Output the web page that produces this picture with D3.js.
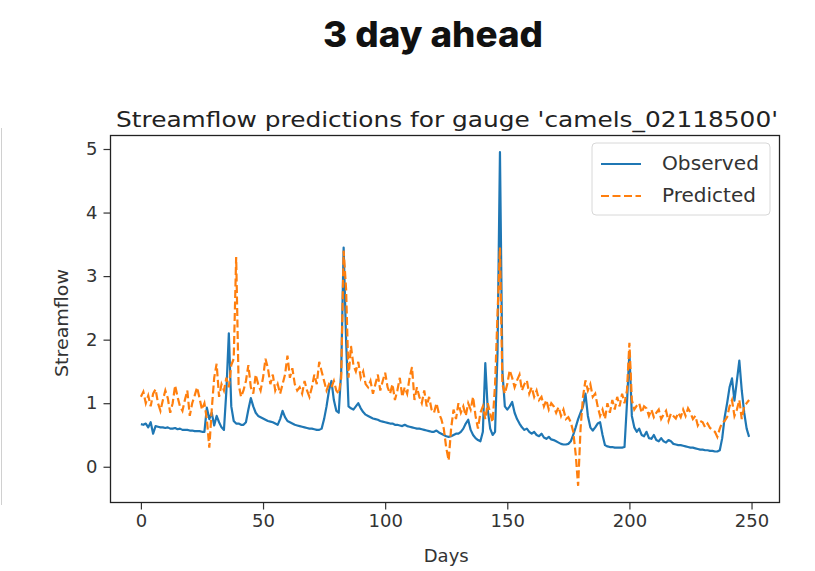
<!DOCTYPE html>
<html>
<head>
<meta charset="utf-8">
<script src="https://cdn.jsdelivr.net/npm/d3@7"></script>
<style>
  html, body { margin: 0; padding: 0; background: #ffffff; }
  svg { display: block; }
</style>
</head>
<body>
<div id="chart"></div>
<script>
const mainTitle = "3 day ahead";
const plotTitle = "Streamflow predictions for gauge 'camels_02118500'";
const xLabel = "Days";
const yLabel = "Streamflow";
const seriesNames = ["Observed", "Predicted"];
const xTicks = [0, 50, 100, 150, 200, 250];
const yTicks = [0, 1, 2, 3, 4, 5];

const observed = [
  0.67, 0.66, 0.68, 0.62, 0.70, 0.52, 0.64, 0.63, 0.62, 0.62,
  0.61, 0.62, 0.60, 0.60, 0.61, 0.59, 0.60, 0.58, 0.58, 0.58,
  0.57, 0.57, 0.56, 0.56, 0.56, 0.55, 0.55, 0.93, 0.75, 0.85,
  0.65, 0.80, 0.70, 0.62, 0.58, 1.20, 2.10, 0.95, 0.72, 0.68,
  0.68, 0.66, 0.66, 0.70, 0.90, 1.08, 0.95, 0.85, 0.80, 0.78,
  0.76, 0.74, 0.72, 0.71, 0.70, 0.68, 0.66, 0.75, 0.88, 0.78,
  0.72, 0.70, 0.68, 0.66, 0.65, 0.64, 0.63, 0.62, 0.61, 0.60,
  0.60, 0.59, 0.58, 0.58, 0.60, 0.75, 0.95, 1.20, 1.35, 1.05,
  0.88, 0.85, 1.50, 3.45, 2.00, 0.95, 0.92, 0.90, 0.95, 1.00,
  0.92, 0.86, 0.82, 0.80, 0.78, 0.76, 0.75, 0.74, 0.72, 0.71,
  0.70, 0.69, 0.68, 0.68, 0.66, 0.66, 0.65, 0.64, 0.66, 0.64,
  0.63, 0.62, 0.61, 0.60, 0.60, 0.59, 0.58, 0.57, 0.56, 0.55,
  0.55, 0.57, 0.54, 0.52, 0.50, 0.48, 0.47, 0.48, 0.50, 0.52,
  0.52, 0.55, 0.60, 0.68, 0.74, 0.58, 0.50, 0.45, 0.42, 0.40,
  0.55, 1.63, 0.90, 0.60, 0.50, 0.55, 1.80, 4.95, 1.50, 0.95,
  0.90, 0.95, 1.02, 0.85, 0.75, 0.68, 0.62, 0.58, 0.60, 0.55,
  0.52, 0.55, 0.50, 0.48, 0.52, 0.46, 0.44, 0.47, 0.43, 0.42,
  0.40, 0.38, 0.36, 0.35, 0.35, 0.36, 0.40, 0.50, 0.62, 0.75,
  0.85, 0.95, 1.15, 0.80, 0.62, 0.57, 0.62, 0.68, 0.70, 0.50,
  0.34, 0.32, 0.31, 0.31, 0.30, 0.30, 0.30, 0.30, 0.31, 1.00,
  1.80, 0.80, 0.62, 0.55, 0.60, 0.50, 0.48, 0.55, 0.45, 0.44,
  0.50, 0.42, 0.40, 0.45, 0.40, 0.38, 0.42, 0.40, 0.36, 0.35,
  0.34, 0.34, 0.33, 0.32, 0.31, 0.30, 0.30, 0.29, 0.28, 0.27,
  0.27, 0.26, 0.26, 0.25, 0.25, 0.24, 0.24, 0.26, 0.45, 0.78,
  1.00, 1.25, 1.39, 1.04, 1.35, 1.67, 1.20, 0.85, 0.60, 0.47
];

const predicted = [
  1.10, 1.18, 1.00, 1.12, 0.95, 1.15, 1.22, 1.00, 0.88, 1.05,
  1.20, 1.08, 0.85, 1.00, 1.28, 1.10, 0.95, 0.88, 1.05, 1.20,
  0.80, 1.00, 1.12, 1.25, 1.08, 0.90, 1.00, 0.75, 0.30, 0.90,
  1.40, 1.62, 1.10, 1.30, 1.20, 1.40, 1.25, 1.60, 1.70, 3.30,
  1.30, 1.10, 1.20, 1.35, 1.60, 1.25, 1.15, 1.45, 1.30, 1.20,
  1.40, 1.70, 1.55, 1.30, 1.45, 1.20, 1.30, 1.15, 1.30, 1.45,
  1.75, 1.40, 1.55, 1.30, 1.20, 1.25, 1.15, 1.35, 1.20, 1.10,
  1.25, 1.45, 1.30, 1.65, 1.50, 1.35, 1.20, 1.30, 1.25, 1.35,
  1.20, 1.15, 1.40, 3.40, 2.80, 1.40, 1.90, 1.60, 1.50, 1.65,
  1.40, 1.50, 1.30, 1.25, 1.35, 1.15, 1.30, 1.45, 1.20, 1.35,
  1.48, 1.25, 1.15, 1.30, 1.05, 1.20, 1.40, 1.10, 1.25, 1.15,
  1.40, 1.57, 1.05, 1.25, 1.10, 1.00, 1.20, 0.95, 1.10, 0.90,
  0.85, 1.00, 0.84, 0.75, 0.60, 0.30, 0.10, 0.60, 0.90, 0.75,
  1.00, 0.85, 0.95, 0.80, 1.00, 0.90, 1.10, 0.80, 0.60, 0.85,
  0.95, 0.75, 1.00, 0.84, 0.70, 1.30, 2.40, 3.45, 1.30, 1.15,
  1.30, 1.52, 1.40, 1.25, 1.36, 1.45, 1.20, 1.30, 1.36, 1.15,
  1.25, 1.10, 1.20, 1.05, 1.10, 0.95, 1.05, 0.90, 1.00, 0.95,
  0.85, 0.94, 0.80, 0.90, 0.75, 0.78, 0.70, 0.55, 0.20, -0.30,
  0.60, 1.10, 1.36, 1.20, 1.30, 1.10, 1.15, 0.95, 0.80, 0.90,
  0.75, 1.00, 0.85, 1.05, 0.90, 1.10, 0.95, 1.15, 1.00, 1.20,
  1.95, 1.05, 0.90, 0.96, 1.00, 0.85, 0.95, 0.92, 0.80, 0.90,
  0.78, 0.85, 0.90, 0.75, 0.82, 0.88, 0.72, 0.84, 0.80, 0.76,
  0.85, 0.78, 0.90, 0.80, 0.92, 0.85, 0.75, 0.80, 0.65, 0.72,
  0.70, 0.62, 0.68, 0.61, 0.58, 0.55, 0.47, 0.60, 0.70, 0.72,
  0.78, 0.95, 1.05, 0.80, 0.90, 1.05, 0.75, 0.95, 1.00, 1.05
];

const colors = ["#1f77b4", "#ff7f0e"];

const W = 815, H = 571;
const plot = { left: 110.5, right: 779.5, top: 135.5, bottom: 502.5 };

const svg = d3.select("#chart").append("svg")
  .attr("width", W).attr("height", H)
  .style("font-family", "'DejaVu Sans', sans-serif");

svg.append("rect").attr("width", W).attr("height", H).attr("fill", "#ffffff");

// faint panel edge on far left
svg.append("line").attr("x1", 1.5).attr("x2", 1.5).attr("y1", 128).attr("y2", 505)
  .attr("stroke", "#d0d0d0").attr("stroke-width", 1);

const n = observed.length;
const allVals = observed.concat(predicted);
const yMin = d3.min(allVals), yMax = d3.max(allVals);
const yPad = (yMax - yMin) * 0.05;
const xPad = (n - 1) * 0.05;

const x = d3.scaleLinear().domain([-xPad, n - 1 + xPad]).range([plot.left, plot.right]);
const y = d3.scaleLinear().domain([yMin - yPad, yMax + yPad]).range([plot.bottom, plot.top]);

// main title
svg.append("text")
  .attr("x", 433).attr("y", 47)
  .attr("text-anchor", "middle")
  .style("font-family", "Inter, Roboto, sans-serif")
  .style("font-weight", 800)
  .style("font-size", "36px")
  .attr("textLength", 220).attr("lengthAdjust", "spacingAndGlyphs")
  .attr("fill", "#111")
  .text(mainTitle);

// plot title
svg.append("text")
  .attr("x", (plot.left + plot.right) / 2 + 2).attr("y", 127)
  .attr("text-anchor", "middle")
  .style("font-size", "21px")
  .attr("textLength", 662).attr("lengthAdjust", "spacingAndGlyphs")
  .attr("fill", "#222")
  .text(plotTitle);

// lines
const line = d3.line().x((d, i) => x(i)).y(d => y(d));
const g = svg.append("g");
g.append("path").datum(observed)
  .attr("d", line).attr("fill", "none")
  .attr("stroke", colors[0]).attr("stroke-width", 2.2)
  .attr("stroke-linejoin", "round");
g.append("path").datum(predicted)
  .attr("d", line).attr("fill", "none")
  .attr("stroke", colors[1]).attr("stroke-width", 2.2)
  .attr("stroke-dasharray", "8,3.5");

// axes
const xAxis = d3.axisBottom(x).tickValues(xTicks).tickSize(7).tickPadding(5).tickFormat(d3.format("d"));
const yAxis = d3.axisLeft(y).tickValues(yTicks).tickSize(7).tickPadding(6).tickFormat(d3.format("d"));

const gx = svg.append("g").attr("transform", `translate(0,${plot.bottom})`).call(xAxis);
const gy = svg.append("g").attr("transform", `translate(${plot.left},0)`).call(yAxis);
[gx, gy].forEach(a => {
  a.select(".domain").remove();
  a.selectAll(".tick line").attr("stroke", "#333").attr("stroke-width", 1.2);
  a.selectAll(".tick text").attr("fill", "#333").style("font-size", "18px")
    .style("font-family", "'DejaVu Sans', sans-serif");
});

// spines
svg.append("rect")
  .attr("x", plot.left).attr("y", plot.top)
  .attr("width", plot.right - plot.left).attr("height", plot.bottom - plot.top)
  .attr("fill", "none").attr("stroke", "#222").attr("stroke-width", 1.3);

// axis labels
svg.append("text")
  .attr("x", x(125)).attr("y", 562)
  .attr("text-anchor", "middle")
  .style("font-size", "18px").attr("fill", "#333")
  .text(xLabel);
svg.append("text")
  .attr("transform", `translate(68,${(plot.top + plot.bottom) / 2 + 4}) rotate(-90)`)
  .attr("text-anchor", "middle")
  .style("font-size", "18px").attr("fill", "#333")
  .attr("textLength", 108).attr("lengthAdjust", "spacingAndGlyphs")
  .text(yLabel);

// legend
const lg = svg.append("g").attr("transform", "translate(592,143)");
lg.append("rect").attr("width", 178).attr("height", 72).attr("rx", 4)
  .attr("fill", "#ffffff").attr("fill-opacity", 0.8)
  .attr("stroke", "#d8d8d8").attr("stroke-width", 1);
seriesNames.forEach((name, i) => {
  const yy = 21 + i * 32;
  lg.append("line").attr("x1", 9).attr("x2", 49).attr("y1", yy).attr("y2", yy)
    .attr("stroke", colors[i]).attr("stroke-width", 2.2)
    .attr("stroke-dasharray", i === 1 ? "8,3.5" : null);
  lg.append("text").attr("x", 70).attr("y", yy + 6)
    .style("font-size", "19px").attr("fill", "#333")
    .attr("textLength", i === 0 ? 97 : 94).attr("lengthAdjust", "spacingAndGlyphs")
    .text(name);
});
</script>
</body>
</html>
